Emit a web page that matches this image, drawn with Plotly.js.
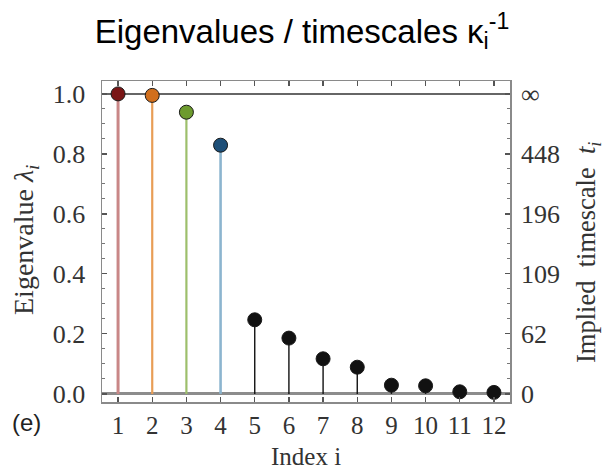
<!DOCTYPE html>
<html>
<head>
<meta charset="utf-8">
<script src="https://cdn.plot.ly/plotly-3.0.1.min.js"></script>
<style>html,body{margin:0;padding:0;background:#fff;}#chart{width:604px;height:474px;}</style>
</head>
<body>
<div id="chart"></div>
<script>
// ---- data ----
const indices = [1, 2, 3, 4, 5, 6, 7, 8, 9, 10, 11, 12];
const eigenvalues = [1.0, 0.995, 0.939, 0.829, 0.247, 0.186, 0.117, 0.089, 0.029, 0.027, 0.007, 0.005];
const leftTickVals = [0.0, 0.2, 0.4, 0.6, 0.8, 1.0];
const rightTickText = ['0', '62', '109', '196', '448', '\u221e'];
const stationaryLevel = 1.0;

// ---- styles ----
const stemColors = ['#c98787', '#e89d55', '#9dbf6c', '#8cb5cf', '#111', '#111', '#111', '#111', '#111', '#111', '#111', '#111'];
const dotColors = ['#7a1616', '#d16f1d', '#6d9b2e', '#1d4f78', '#111', '#111', '#111', '#111', '#111', '#111', '#111', '#111'];
const stemWidths = [3, 2.2, 2.2, 2.6, 1.4, 1.4, 1.4, 1.4, 1.4, 1.4, 1.4, 1.4];

const serif = 'Liberation Serif, Times New Roman, serif';
const sans = 'Liberation Sans, Arial, sans-serif';

const traces = [];
indices.forEach((ix, k) => {
  traces.push({
    x: [ix, ix], y: [0, eigenvalues[k]], mode: 'lines', type: 'scatter',
    line: {color: stemColors[k], width: stemWidths[k]}, hoverinfo: 'skip', showlegend: false
  });
});
traces.push({
  x: indices, y: eigenvalues, mode: 'markers', type: 'scatter', showlegend: false,
  marker: {size: 14, color: dotColors, line: {color: '#1a1a1a', width: 1}}
});
// invisible trace to activate right axis
traces.push({x: [indices[0]], y: [eigenvalues[0]], yaxis: 'y2', mode: 'markers',
  marker: {opacity: 0}, showlegend: false, hoverinfo: 'skip'});

const W = 604, H = 474;
const L = 102, R = 94, T = 81, B = 72;
const pw = W - L - R, ph = H - T - B;
const px = x => (x - L) / pw;
const py = y => 1 - (y - T) / ph;

const tickFont = {family: serif, size: 26, color: '#333'};
const yRange = [-0.027, 1.043];

const layout = {
  width: W, height: H,
  margin: {l: L, r: R, t: T, b: B, pad: 0},
  paper_bgcolor: '#fff', plot_bgcolor: '#fff',
  title: {text: 'Eigenvalues / timescales \u03ba<sub>i</sub><sup>-1</sup>',
    font: {family: sans, size: 33, color: '#000'},
    x: 0.5, xref: 'container', xanchor: 'center', y: 1 - 31 / H, yref: 'container', yanchor: 'middle'},
  xaxis: {
    range: [0.53, 12.47], tickvals: indices, ticks: 'inside', ticklen: 5, tickwidth: 1.2, tickcolor: '#555',
    mirror: 'ticks', showline: true, linecolor: '#8a8a8a', linewidth: 1.5,
    showgrid: false, zeroline: false,
    tickfont: {family: serif, size: 25, color: '#333'}
  },
  yaxis: {
    range: yRange, tickvals: leftTickVals, tickformat: '.1f',
    ticks: 'inside', ticklen: 5, tickwidth: 1.2, tickcolor: '#555',
    minor: {dtick: 0.05, tick0: 0, ticks: 'inside', ticklen: 3, tickcolor: '#777', tickwidth: 1},
    mirror: true, showline: true, linecolor: '#8a8a8a', linewidth: 1.5,
    showgrid: false, zeroline: true, zerolinecolor: '#8c8c8c', zerolinewidth: 3,
    tickfont: tickFont, ticklabelstandoff: 10
  },
  yaxis2: {
    overlaying: 'y', side: 'right', range: yRange,
    tickvals: leftTickVals, ticktext: rightTickText,
    ticks: 'inside', ticklen: 5, tickwidth: 1.2, tickcolor: '#555',
    minor: {dtick: 0.05, tick0: 0, ticks: 'inside', ticklen: 3, tickcolor: '#777', tickwidth: 1},
    showline: false, showgrid: false, zeroline: false,
    tickfont: tickFont, ticklabelstandoff: 10
  },
  shapes: [{type: 'line', xref: 'paper', x0: 0, x1: 1, yref: 'y', y0: stationaryLevel, y1: stationaryLevel,
    line: {color: '#333', width: 1.5}, layer: 'below'}],
  annotations: [
    {text: 'Eigenvalue <i>\u03bb</i><sub><i>i</i></sub>', xref: 'paper', yref: 'paper', x: px(26), y: py(240),
      textangle: -90, showarrow: false, xanchor: 'center', yanchor: 'middle',
      font: {family: serif, size: 28, color: '#333'}},
    {text: 'Implied  timescale  <i>t</i><sub><i>i</i></sub>', xref: 'paper', yref: 'paper', x: px(588), y: py(252),
      textangle: -90, showarrow: false, xanchor: 'center', yanchor: 'middle',
      font: {family: serif, size: 26.5, color: '#333'}},
    {text: 'Index i', xref: 'paper', yref: 'paper', x: px(306), y: py(457),
      showarrow: false, xanchor: 'center', yanchor: 'middle',
      font: {family: serif, size: 25, color: '#333'}},
    {text: '(e)', xref: 'paper', yref: 'paper', x: px(26), y: py(422),
      showarrow: false, xanchor: 'center', yanchor: 'middle',
      font: {family: sans, size: 24, color: '#222'}}
  ]
};

Plotly.newPlot('chart', traces, layout, {displayModeBar: false, staticPlot: true});
</script>
</body>
</html>
